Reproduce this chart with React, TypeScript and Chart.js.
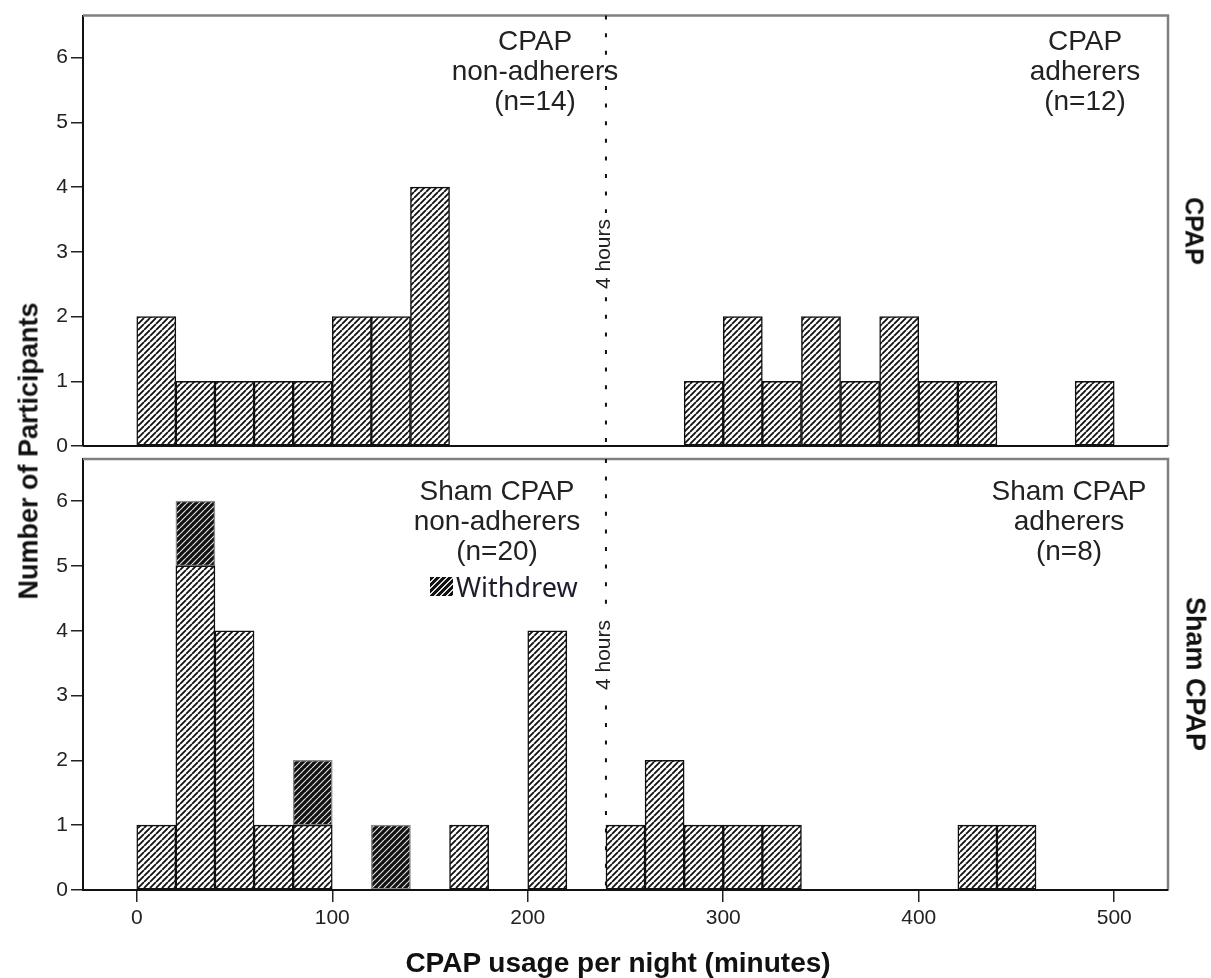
import { useEffect, useRef } from "react";
import { Chart, registerables } from "chart.js";

Chart.register(...registerables);

// ---- data (20-minute bins, value = bin centre in minutes) ----
const binCenters = [10, 30, 50, 70, 90, 110, 130, 150, 170, 190, 210, 230, 250, 270, 290, 310, 330, 350, 370, 390, 410, 430, 450, 470, 490];
const cpapCounts = [2, 1, 1, 1, 1, 2, 2, 4, 0, 0, 0, 0, 0, 0, 1, 2, 1, 2, 1, 2, 1, 1, 0, 0, 1];
const shamCounts = [1, 5, 4, 1, 1, 0, 0, 0, 1, 0, 4, 0, 1, 2, 1, 1, 1, 0, 0, 0, 0, 1, 1, 0, 0];
const shamWithdrewCounts = [0, 1, 0, 0, 1, 0, 1, 0, 0, 0, 0, 0, 0, 0, 0, 0, 0, 0, 0, 0, 0, 0, 0, 0, 0];
const xTickValues = [0, 100, 200, 300, 400, 500];
const yTickValues = [0, 1, 2, 3, 4, 5, 6];
const cutoffMinutes = 240;

const FONT = '"Liberation Sans", Arial, Helvetica, sans-serif';
const W = 1211;
const H = 978;

function makePattern(dark: boolean): CanvasPattern {
  const s = 6;
  const c = document.createElement("canvas");
  c.width = s;
  c.height = s;
  const g = c.getContext("2d")!;
  g.fillStyle = dark ? "#111" : "#fff";
  g.fillRect(0, 0, s, s);
  g.strokeStyle = dark ? "#e0e0e0" : "#111";
  g.lineWidth = dark ? 1.2 : 1.8;
  g.beginPath();
  for (const o of [-s, 0, s]) {
    g.moveTo(o, s);
    g.lineTo(o + s, 0);
  }
  g.stroke();
  return g.createPattern(c, "repeat")!;
}

const panelPlugin = {
  id: "panelDecor",
  afterDatasetsDraw(chart: any) {
    const { ctx, chartArea: a, scales } = chart;
    const x = scales.x.getPixelForValue(cutoffMinutes);
    const y0 = scales.y.getPixelForValue(0);
    ctx.save();
    ctx.strokeStyle = "#808080";
    ctx.lineWidth = 2.5;
    ctx.beginPath();
    ctx.moveTo(a.left, a.top);
    ctx.lineTo(a.right, a.top);
    ctx.lineTo(a.right, a.bottom);
    ctx.stroke();
    ctx.strokeStyle = "#111";
    ctx.lineWidth = 2;
    ctx.beginPath();
    ctx.moveTo(a.left, y0);
    ctx.lineTo(a.right, y0);
    ctx.stroke();
    ctx.setLineDash([4, 13.6]);
    ctx.lineWidth = 2;
    ctx.beginPath();
    ctx.moveTo(x, a.top);
    ctx.lineTo(x, a.bottom);
    ctx.stroke();
    ctx.restore();
  },
};

function toPoints(counts: number[]) {
  return binCenters.map((x, i) => ({ x, y: counts[i] > 0 ? counts[i] : null }));
}

function makeConfig(isBottom: boolean, light: CanvasPattern, dark: CanvasPattern): any {
  const datasets: any[] = isBottom
    ? [
        {
          label: "Sham CPAP",
          data: toPoints(shamCounts),
          backgroundColor: light,
          borderColor: "#111",
          borderWidth: 1.5,
          borderSkipped: false,
          stack: "s",
        },
        {
          label: "Withdrew",
          data: toPoints(shamWithdrewCounts),
          backgroundColor: dark,
          borderColor: "#8a8a8a",
          borderWidth: 1.5,
          borderSkipped: false,
          stack: "s",
        },
      ]
    : [
        {
          label: "CPAP",
          data: toPoints(cpapCounts),
          backgroundColor: light,
          borderColor: "#111",
          borderWidth: 1.5,
          borderSkipped: false,
          stack: "s",
        },
      ];
  return {
    type: "bar",
    data: { datasets },
    plugins: [panelPlugin],
    options: {
      animation: false,
      responsive: false,
      devicePixelRatio: 1,
      layout: {
        padding: isBottom
          ? { left: 33, right: 43, top: 459, bottom: H - 890 - 40 }
          : { left: 33, right: 43, top: 15.5, bottom: H - 446 },
      },
      datasets: { bar: { barPercentage: 1, categoryPercentage: 1 } },
      plugins: { legend: { display: false }, tooltip: { enabled: false } },
      scales: {
        x: {
          type: "linear",
          min: -27.5,
          max: 527.5,
          stacked: true,
          offset: false,
          display: isBottom,
          afterBuildTicks: (s: any) => {
            s.ticks = xTickValues.map((v) => ({ value: v }));
          },
          afterFit: (s: any) => {
            s.height = isBottom ? 40 : 0;
          },
          grid: {
            display: true,
            offset: false,
            drawOnChartArea: false,
            drawTicks: true,
            tickLength: 12,
            color: "#222",
            lineWidth: 1.5,
          },
          border: { display: true, color: "#111", width: 2 },
          ticks: {
            color: "#222",
            padding: 4,
            maxRotation: 0,
            font: { family: FONT, size: 21 },
          },
        },
        y: {
          type: "linear",
          min: 0,
          max: 6.65,
          stacked: true,
          afterBuildTicks: (s: any) => {
            s.ticks = yTickValues.map((v) => ({ value: v }));
          },
          afterFit: (s: any) => {
            s.width = 50;
          },
          grid: {
            display: true,
            drawOnChartArea: false,
            drawTicks: true,
            tickLength: 12,
            color: "#222",
            lineWidth: 1.5,
          },
          border: { display: true, color: "#111", width: 2 },
          ticks: {
            color: "#222",
            padding: 3,
            font: { family: FONT, size: 21 },
          },
        },
      },
    },
  };
}

const annoStyle = (cx: number, top: number): any => ({
  position: "absolute",
  left: cx,
  top,
  transform: "translateX(-50%)",
  whiteSpace: "pre",
  textAlign: "center",
  fontFamily: FONT,
  fontSize: 28,
  lineHeight: "30px",
  color: "#222",
});

const rotStyle = (cx: number, cy: number, deg: number, size: number, bold: boolean, extra: any = {}): any => ({
  position: "absolute",
  left: cx,
  top: cy,
  transform: `translate(-50%, -50%) rotate(${deg}deg)`,
  whiteSpace: "nowrap",
  fontFamily: FONT,
  fontSize: size,
  fontWeight: bold ? "bold" : "normal",
  lineHeight: 1,
  color: "#111",
  ...extra,
});

export default function App() {
  const topRef = useRef<HTMLCanvasElement>(null);
  const botRef = useRef<HTMLCanvasElement>(null);

  useEffect(() => {
    const light = makePattern(false);
    const dark = makePattern(true);
    const top = new Chart(topRef.current!, makeConfig(false, light, dark));
    const bot = new Chart(botRef.current!, makeConfig(true, light, dark));
    return () => {
      top.destroy();
      bot.destroy();
    };
  }, []);

  return (
    <div
      style={{
        position: "absolute",
        left: 0,
        top: 0,
        width: W,
        height: H,
        background: "#fff",
        overflow: "hidden",
        fontFamily: FONT,
      }}
    >
      <canvas ref={topRef} width={W} height={H} style={{ position: "absolute", left: 0, top: 0 }} />
      <canvas ref={botRef} width={W} height={H} style={{ position: "absolute", left: 0, top: 0 }} />

      <div style={annoStyle(535, 26)}>{"CPAP\nnon-adherers\n(n=14)"}</div>
      <div style={annoStyle(1085, 26)}>{"CPAP\nadherers\n(n=12)"}</div>
      <div style={annoStyle(497, 476)}>{"Sham CPAP\nnon-adherers\n(n=20)"}</div>
      <div style={annoStyle(1069, 476)}>{"Sham CPAP\nadherers\n(n=8)"}</div>

      <div
        style={{
          position: "absolute",
          left: 430,
          top: 577,
          width: 23,
          height: 19,
          background: "repeating-linear-gradient(135deg, #111 0px, #111 3px, #ddd 3px, #ddd 4.3px)",
        }}
      />
      <div
        style={{
          position: "absolute",
          left: 456,
          top: 573,
          fontFamily: '"Noto Sans", "Open Sans", sans-serif',
          fontSize: 27,
          lineHeight: "27px",
          color: "#1c1c2c",
          whiteSpace: "nowrap",
        }}
      >
        Withdrew
      </div>

      <div style={rotStyle(602, 254, -90, 21, false, { background: "#fff", padding: "0 6px", color: "#222" })}>4 hours</div>
      <div style={rotStyle(602, 655, -90, 21, false, { background: "#fff", padding: "0 6px", color: "#222" })}>4 hours</div>

      <div style={rotStyle(29, 451, -90, 27, true)}>Number of Participants</div>
      <div style={rotStyle(1194, 231, 90, 25, true)}>CPAP</div>
      <div style={rotStyle(1195, 674, 90, 27, true)}>Sham CPAP</div>

      <div
        style={{
          position: "absolute",
          left: 618,
          top: 963,
          transform: "translate(-50%, -50%)",
          whiteSpace: "nowrap",
          fontFamily: FONT,
          fontSize: 28,
          fontWeight: "bold",
          lineHeight: 1,
          color: "#111",
        }}
      >
        CPAP usage per night (minutes)
      </div>
    </div>
  );
}
